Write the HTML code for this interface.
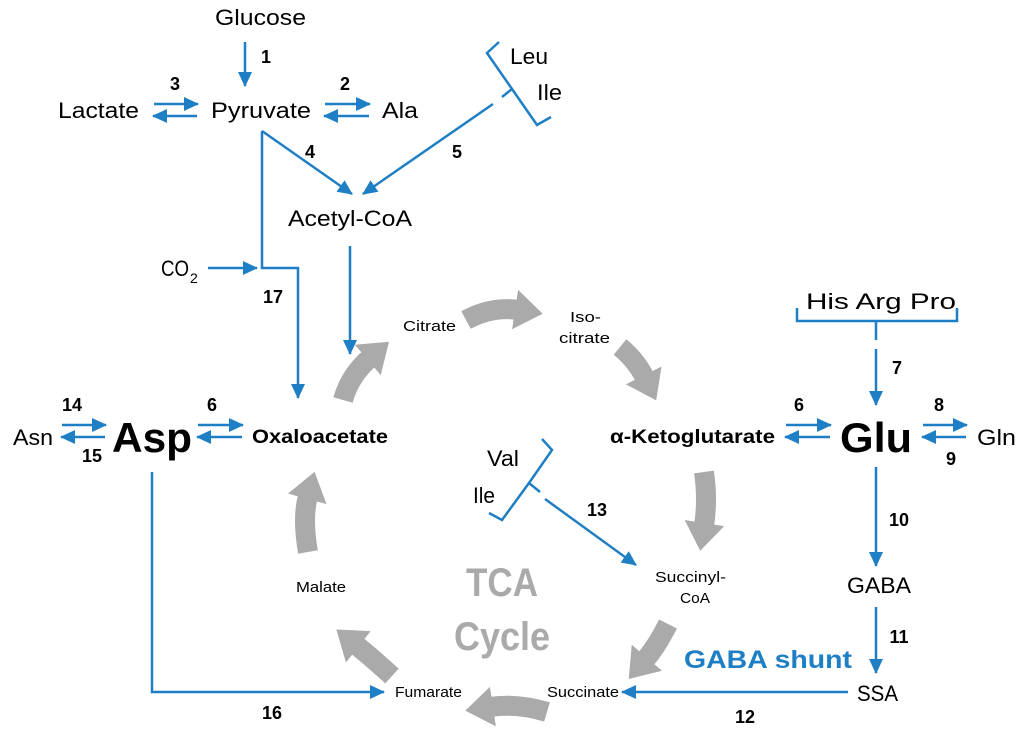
<!DOCTYPE html>
<html><head><meta charset="utf-8"><style>
html,body{margin:0;padding:0;background:#fff;}
svg{display:block;}
text{font-family:"Liberation Sans",sans-serif;fill:#000;}
.b{font-weight:bold;}
.s{font-size:15px;}
.m{font-size:22px;}
.n{font-size:18px;font-weight:bold;}
</style></head><body>
<svg width="1024" height="733" viewBox="0 0 1024 733" xmlns="http://www.w3.org/2000/svg">
<defs>
<marker id="ab" markerUnits="userSpaceOnUse" markerWidth="16" markerHeight="16" refX="14" refY="8" orient="auto">
<path d="M0,1 L15,8 L0,15 Z" fill="#1f7fc4"/></marker>
<marker id="ag" markerUnits="userSpaceOnUse" markerWidth="30" markerHeight="42" refX="3" refY="21" orient="auto">
<path d="M0,1 L28,21 L0,41 Z" fill="#aaaaaa"/></marker>
</defs>
<g fill="none" stroke="#1f7fc4" stroke-width="2.5">
<line x1="245" y1="42" x2="245" y2="86" marker-end="url(#ab)"/>
<line x1="154" y1="104" x2="198" y2="104" marker-end="url(#ab)"/>
<line x1="197" y1="116" x2="153" y2="116" marker-end="url(#ab)"/>
<line x1="325" y1="104" x2="370" y2="104" marker-end="url(#ab)"/>
<line x1="369" y1="116" x2="324" y2="116" marker-end="url(#ab)"/>
<polyline points="499,42 487,53 512,89 537,125 551,117"/>
<line x1="512" y1="89" x2="502" y2="97"/>
<line x1="493" y1="104" x2="363" y2="194" marker-end="url(#ab)"/>
<line x1="262" y1="131" x2="352" y2="194" marker-end="url(#ab)"/>
<polyline points="262,131 262,268 298,268 298,398" marker-end="url(#ab)"/>
<line x1="208" y1="268" x2="257" y2="268" marker-end="url(#ab)"/>
<line x1="350" y1="246" x2="350" y2="354" marker-end="url(#ab)"/>
<line x1="62" y1="425" x2="106" y2="425" marker-end="url(#ab)"/>
<line x1="105" y1="437" x2="61" y2="437" marker-end="url(#ab)"/>
<line x1="198" y1="425" x2="243" y2="425" marker-end="url(#ab)"/>
<line x1="242" y1="437" x2="197" y2="437" marker-end="url(#ab)"/>
<line x1="786" y1="425" x2="831" y2="425" marker-end="url(#ab)"/>
<line x1="830" y1="437" x2="785" y2="437" marker-end="url(#ab)"/>
<line x1="923" y1="425" x2="967" y2="425" marker-end="url(#ab)"/>
<line x1="966" y1="437" x2="922" y2="437" marker-end="url(#ab)"/>
<polyline points="797,308 797,321 957,321 957,308"/>
<line x1="876" y1="321" x2="876" y2="340"/>
<line x1="876" y1="349" x2="876" y2="405" marker-end="url(#ab)"/>
<line x1="876" y1="467" x2="876" y2="566" marker-end="url(#ab)"/>
<line x1="876" y1="607" x2="876" y2="673" marker-end="url(#ab)"/>
<line x1="848" y1="692" x2="622" y2="692" marker-end="url(#ab)"/>
<polyline points="152,472 152,692 384,692" marker-end="url(#ab)"/>
<polyline points="542,439 552,450 529,483 502,520 489,513"/>
<line x1="529" y1="483" x2="540" y2="492"/>
<line x1="545" y1="499" x2="636" y2="565" marker-end="url(#ab)"/>
</g>
<g fill="none" stroke="#aaaaaa" stroke-width="20">
<path d="M343,400 Q350,375 370,358" marker-end="url(#ag)"/>
<path d="M466,320 Q492,306 518,310" marker-end="url(#ag)"/>
<path d="M620,347 Q636,360 645,378" marker-end="url(#ag)"/>
<path d="M704,472 Q708,500 704,526" marker-end="url(#ag)"/>
<path d="M668,624 Q657,646 645,660" marker-end="url(#ag)"/>
<path d="M547,712 Q517,703 490,707" marker-end="url(#ag)"/>
<path d="M392,676 Q370,656 356,645" marker-end="url(#ag)"/>
<path d="M308,552 Q302,518 308,496" marker-end="url(#ag)"/>
</g>
<g>
<text class="m" x="215" y="25" textLength="91" lengthAdjust="spacingAndGlyphs">Glucose</text>
<text class="n" x="266" y="63" text-anchor="middle">1</text>
<text class="m" x="58" y="118" textLength="81" lengthAdjust="spacingAndGlyphs">Lactate</text>
<text class="m" x="211" y="118" textLength="100" lengthAdjust="spacingAndGlyphs">Pyruvate</text>
<text class="m" x="382" y="118" textLength="36" lengthAdjust="spacingAndGlyphs">Ala</text>
<text class="n" x="175" y="90" text-anchor="middle">3</text>
<text class="n" x="345" y="90" text-anchor="middle">2</text>
<text class="m" x="510" y="64" textLength="38" lengthAdjust="spacingAndGlyphs">Leu</text>
<text class="m" x="537" y="100" textLength="25" lengthAdjust="spacingAndGlyphs">Ile</text>
<text class="n" x="310" y="158" text-anchor="middle">4</text>
<text class="n" x="457" y="158" text-anchor="middle">5</text>
<text class="m" x="288" y="226" textLength="124" lengthAdjust="spacingAndGlyphs">Acetyl-CoA</text>
<text class="m" x="161" y="276" textLength="28" lengthAdjust="spacingAndGlyphs">CO</text><text x="190" y="283" style="font-size:14px">2</text>
<text class="n" x="273" y="303" text-anchor="middle">17</text>
<text class="s" x="403" y="331" textLength="53" lengthAdjust="spacingAndGlyphs">Citrate</text>
<text class="s" x="570" y="322" textLength="31" lengthAdjust="spacingAndGlyphs">Iso-</text>
<text class="s" x="559" y="343" textLength="51" lengthAdjust="spacingAndGlyphs">citrate</text>
<text x="806" y="309" style="font-size:22px" textLength="150" lengthAdjust="spacingAndGlyphs">His  Arg  Pro</text>
<text class="n" x="897" y="374" text-anchor="middle">7</text>
<text x="13" y="445" style="font-size:22px" textLength="40" lengthAdjust="spacingAndGlyphs">Asn</text>
<text class="n" x="72" y="411" text-anchor="middle">14</text>
<text class="n" x="92" y="462" text-anchor="middle">15</text>
<text x="112" y="452" class="b" style="font-size:42px" textLength="80" lengthAdjust="spacingAndGlyphs">Asp</text>
<text class="n" x="212" y="411" text-anchor="middle">6</text>
<text x="252" y="443" class="b" style="font-size:19px" textLength="136" lengthAdjust="spacingAndGlyphs">Oxaloacetate</text>
<text x="610" y="443" class="b" style="font-size:19px" textLength="165" lengthAdjust="spacingAndGlyphs">α-Ketoglutarate</text>
<text class="n" x="799" y="411" text-anchor="middle">6</text>
<text x="840" y="452" class="b" style="font-size:42px" textLength="72" lengthAdjust="spacingAndGlyphs">Glu</text>
<text class="n" x="939" y="411" text-anchor="middle">8</text>
<text class="n" x="951" y="465" text-anchor="middle">9</text>
<text x="977" y="445" style="font-size:22px" textLength="39" lengthAdjust="spacingAndGlyphs">Gln</text>
<text class="m" x="487" y="466" textLength="32" lengthAdjust="spacingAndGlyphs">Val</text>
<text class="m" x="473" y="503" textLength="22" lengthAdjust="spacingAndGlyphs">Ile</text>
<text class="n" x="597" y="516" text-anchor="middle">13</text>
<text class="n" x="899" y="526" text-anchor="middle">10</text>
<text class="m" x="847" y="593" textLength="64" lengthAdjust="spacingAndGlyphs">GABA</text>
<text class="n" x="899" y="643" text-anchor="middle">11</text>
<text x="684" y="668" class="b" style="font-size:25px;fill:#1f7fc4" textLength="168" lengthAdjust="spacingAndGlyphs">GABA shunt</text>
<text class="m" x="857" y="701" textLength="41" lengthAdjust="spacingAndGlyphs">SSA</text>
<text class="n" x="745" y="723" text-anchor="middle">12</text>
<text class="s" x="547" y="697" textLength="72" lengthAdjust="spacingAndGlyphs">Succinate</text>
<text class="s" x="395" y="697" textLength="67" lengthAdjust="spacingAndGlyphs">Fumarate</text>
<text class="n" x="272" y="719" text-anchor="middle">16</text>
<text class="s" x="296" y="592" textLength="50" lengthAdjust="spacingAndGlyphs">Malate</text>
<text class="s" x="655" y="582" textLength="71" lengthAdjust="spacingAndGlyphs">Succinyl-</text>
<text class="s" x="680" y="603" textLength="30" lengthAdjust="spacingAndGlyphs">CoA</text>
<text x="466" y="596" class="b" style="font-size:40px;fill:#aaaaaa" textLength="72" lengthAdjust="spacingAndGlyphs">TCA</text>
<text x="454" y="650" class="b" style="font-size:40px;fill:#aaaaaa" textLength="96" lengthAdjust="spacingAndGlyphs">Cycle</text>
</g>
</svg>
</body></html>
